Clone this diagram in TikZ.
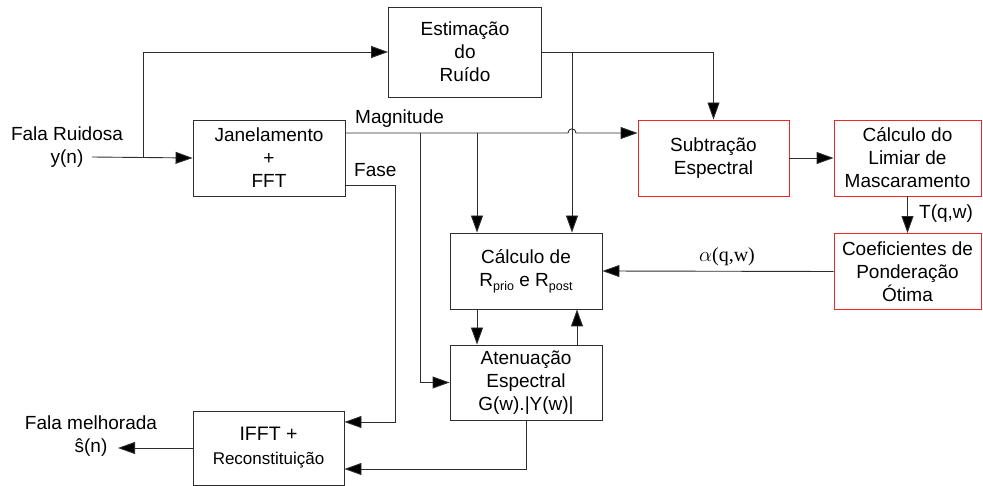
\documentclass[tikz,border=0pt]{standalone}
\usepackage{fontspec}
\setmainfont{Liberation Sans}
\newfontfamily\serifgreek{Liberation Serif}
\usetikzlibrary{arrows.meta,calc}

\definecolor{linegray}{RGB}{45,45,45}
\definecolor{boxred}{RGB}{235,40,40}

\tikzset{
  blk/.style={draw=linegray, line width=0.9pt, align=center, inner sep=0pt,
              font=\fontsize{19}{23}\selectfont},
  redblk/.style={blk, draw=boxred},
  wire/.style={draw=linegray, line width=0.9pt},
  arr/.style={wire, -{Triangle[length=17pt,width=12pt,fill=black]}},
  lbl/.style={inner sep=0pt, font=\fontsize{19}{23}\selectfont, align=center},
}

\newcommand{\subsc}[1]{\raisebox{-4pt}{\fontsize{12.5}{13}\selectfont #1}}

\begin{document}
\begin{tikzpicture}[x=1pt,y=-1pt]
\useasboundingbox (0,0) rectangle (983,486);

% processing blocks
\node[blk, minimum width=153pt, minimum height=90pt] (est) at (465,52)
  {Estimação\\do\\Ruído};
\node[blk, minimum width=152pt, minimum height=76pt] (win) at (269,158)
  {Janelamento\\+\\FFT};
\node[redblk, minimum width=151pt, minimum height=76pt] (sub) at (713.5,158)
  {Subtração\\Espectral};
\node[redblk, minimum width=147pt, minimum height=76pt] (lim) at (907.5,158)
  {Cálculo do\\Limiar de\\Mascaramento};
\node[redblk, minimum width=147pt, minimum height=76pt] (coef) at (907.5,271.5)
  {Coeficientes de\\Ponderação\\Ótima};
\node[blk, minimum width=152pt, minimum height=76pt] (rcal) at (526,271)
  {Cálculo de\\R\subsc{prio} e R\subsc{post}};
\node[blk, minimum width=152pt, minimum height=75pt] (att) at (526,382.5)
  {Atenuação\\Espectral\\G(w).|Y(w)|};
\node[blk, minimum width=151pt, minimum height=74pt] (ifft) at (268.5,448)
  {{\fontsize{19.5}{24}\selectfont IFFT +}\\[1pt]{\fontsize{17}{20}\selectfont Reconstituição}};

% input and output labels
\node[lbl] (inlbl) at (67,147) {Fala Ruidosa\\y(n)};
\node[lbl] (outlbl) at (91,436) {Fala melhorada\\\^{s}(n)};

% auxiliary points
\coordinate (in) at (92,157);
\coordinate (j1) at (143,157);
\coordinate (magA) at ([yshift=25pt]win.east);
\coordinate (faseA) at ([yshift=-27pt]win.east);
\coordinate (b1) at (420,133);
\coordinate (b2) at (477,133);
\coordinate (hopL) at (568,133);
\coordinate (hopR) at (576,133);
\coordinate (n1) at (572,52);
\coordinate (ifftIn1) at ([yshift=26pt]ifft.east);
\coordinate (ifftIn2) at ([yshift=-21pt]ifft.east);
\coordinate (out) at (118,448);

% noisy input, windowing and noise estimate
\draw[arr] (in) -- (win.west);
\draw[arr] (j1) |- (est.west);

% magnitude path, hopping over the noise branch
\draw[arr] (magA) -- (hopL) .. controls (568,127.5) and (576,127.5) .. (hopR)
  -- (sub.west |- magA);
\node[lbl, anchor=south west] (maglbl) at (355,128) {Magnitude};
\draw[arr] (b1) |- (att.west);
\draw[arr] (b2) -- (b2 |- rcal.north);

% phase path to the synthesis block
\draw[arr] (faseA) -- ++(50,0) |- (ifftIn1);
\node[lbl, anchor=south west] (faselbl) at (354,177) {Fase};

% noise estimate to subtraction and to the SNR block
\draw[arr] (est.east) -| (sub.north);
\draw[arr] (n1) -- (n1 |- rcal.north);

% masking threshold chain
\draw[arr] (sub.east) -- (lim.west);
\draw[arr] (lim.south) -- (coef.north);
\node[lbl, anchor=west] (tlbl) at (919,213.5) {T(q,w)};
\draw[arr] (coef.west) -- (rcal.east);
\node[lbl, font=\serifgreek\fontsize{20}{23}\selectfont] (albl) at (727,257) {$\alpha$(q,w)};

% SNR estimation and attenuation loop
\draw[arr] ([xshift=-49pt]rcal.south) -- ([xshift=-49pt]att.north);
\draw[arr] ([xshift=51pt]att.north) -- ([xshift=51pt]rcal.south);
\draw[arr] (att.south) |- (ifftIn2);

% enhanced output
\draw[arr] (ifft.west) -- (out);
\end{tikzpicture}
\end{document}
